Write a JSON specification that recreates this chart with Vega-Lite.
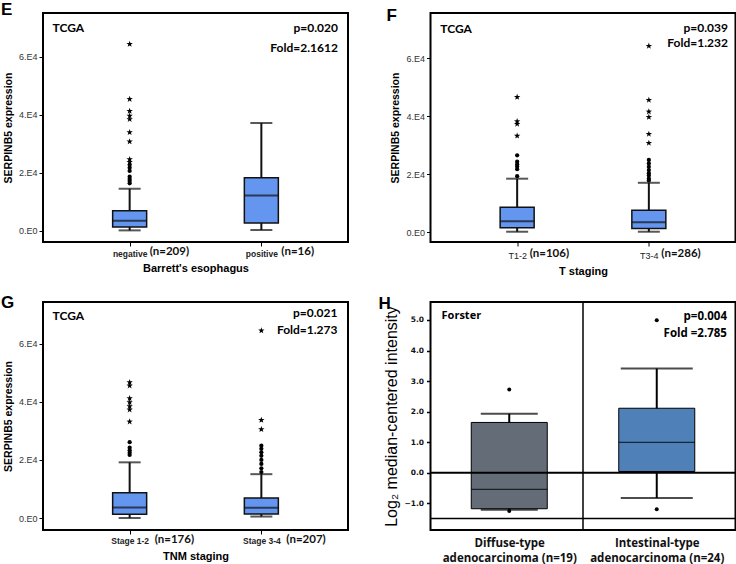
{
 "$schema": "https://vega.github.io/schema/vega-lite/v6.json",
 "background": "white",
 "padding": 0,
 "config": {
  "view": {"stroke": "black", "strokeWidth": 2},
  "axis": {"grid": false, "domain": false, "labelFont": "Liberation Sans", "titleFont": "Liberation Sans", "tickColor": "black", "labelColor": "#222", "titleColor": "black"},
  "title": {"font": "Liberation Sans", "fontWeight": "bold", "fontSize": 17, "color": "black", "anchor": "start", "frame": "group", "offset": 0, "baseline": "alphabetic"}
 },
 "datasets": {
  "boxE": [{"c":1,"lo":100,"q1":1300,"med":3450,"q3":6900,"hi":14450},{"c":2,"lo":230,"q1":2630,"med":12150,"q3":18200,"hi":37100}],
  "outE": [{"c":1,"v":16300,"k":"o"},{"c":1,"v":17100,"k":"o"},{"c":1,"v":17800,"k":"o"},{"c":1,"v":18600,"k":"o"},{"c":1,"v":20600,"k":"o"},{"c":1,"v":21700,"k":"o"},{"c":1,"v":22700,"k":"o"},{"c":1,"v":23600,"k":"s"},{"c":1,"v":24600,"k":"s"},{"c":1,"v":30700,"k":"s"},{"c":1,"v":33900,"k":"s"},{"c":1,"v":38400,"k":"s"},{"c":1,"v":39600,"k":"s"},{"c":1,"v":41200,"k":"s"},{"c":1,"v":45300,"k":"s"},{"c":1,"v":64300,"k":"s"}],
  "boxF": [{"c":1,"lo":100,"q1":1450,"med":3700,"q3":8580,"hi":18420},{"c":2,"lo":100,"q1":1200,"med":3400,"q3":7500,"hi":17000}],
  "outF": [{"c":1,"v":19300,"k":"o"},{"c":1,"v":21700,"k":"o"},{"c":1,"v":22600,"k":"o"},{"c":1,"v":23400,"k":"o"},{"c":1,"v":24300,"k":"o"},{"c":1,"v":26500,"k":"o"},{"c":1,"v":33200,"k":"s"},{"c":1,"v":37300,"k":"s"},{"c":1,"v":38200,"k":"s"},{"c":1,"v":46600,"k":"s"},{"c":2,"v":17800,"k":"o"},{"c":2,"v":18400,"k":"o"},{"c":2,"v":19500,"k":"o"},{"c":2,"v":20300,"k":"o"},{"c":2,"v":21400,"k":"o"},{"c":2,"v":22500,"k":"o"},{"c":2,"v":23700,"k":"o"},{"c":2,"v":24900,"k":"o"},{"c":2,"v":30750,"k":"s"},{"c":2,"v":33860,"k":"s"},{"c":2,"v":39700,"k":"s"},{"c":2,"v":41570,"k":"s"},{"c":2,"v":45600,"k":"s"},{"c":2,"v":64260,"k":"s"}],
  "boxG": [{"c":1,"lo":0,"q1":1300,"med":3620,"q3":8715,"hi":19160},{"c":2,"lo":500,"q1":1400,"med":3500,"q3":6880,"hi":15090}],
  "outG": [{"c":1,"v":21700,"k":"o"},{"c":1,"v":22500,"k":"o"},{"c":1,"v":23300,"k":"o"},{"c":1,"v":24200,"k":"o"},{"c":1,"v":26100,"k":"o"},{"c":1,"v":33150,"k":"s"},{"c":1,"v":37280,"k":"s"},{"c":1,"v":38440,"k":"s"},{"c":1,"v":39820,"k":"s"},{"c":1,"v":41200,"k":"s"},{"c":1,"v":45540,"k":"s"},{"c":1,"v":46700,"k":"s"},{"c":2,"v":15800,"k":"o"},{"c":2,"v":17100,"k":"o"},{"c":2,"v":18600,"k":"o"},{"c":2,"v":20000,"k":"o"},{"c":2,"v":21400,"k":"o"},{"c":2,"v":22600,"k":"o"},{"c":2,"v":23800,"k":"o"},{"c":2,"v":24900,"k":"o"},{"c":2,"v":30500,"k":"s"},{"c":2,"v":33700,"k":"s"},{"c":2,"v":64500,"k":"s"}],
  "boxH": [{"c":0.5,"lo":-1.21,"q1":-1.18,"med":-0.545,"q3":1.645,"hi":1.93},{"c":1.5,"lo":-0.83,"q1":0.04,"med":0.99,"q3":2.11,"hi":3.41}],
  "outH": [{"c":0.5,"v":2.72},{"c":0.5,"v":-1.25},{"c":1.5,"v":4.99},{"c":1.5,"v":-1.2}]
 },
 "columns": 2,
 "spacing": {"row": 60, "column": 82.5},
 "bounds": "flush",
 "concat": [
    {
     "width": 305, "height": 229,
     "title": {"text": "E", "dx": -42, "offset": -6},
     "resolve": {"axis": {"x": "independent", "y": "independent"}},
     "layer": [
      {"data": {"name": "boxE"}, "mark": {"type": "rule", "strokeWidth": 2, "color": "#111"},
       "encoding": {
        "x": {"field": "c", "type": "quantitative", "scale": {"domain": [0.38, 2.62], "nice": false, "zero": false},
              "axis": {"values": [1, 2], "labelExpr": "datum.value == 1 ? 'negative' : 'positive'", "labelFontSize": 8.5, "labelFontWeight": "bold", "labelBaseline": "alphabetic", "tickSize": 4, "tickWidth": 1, "labelPadding": 10, "title": "Barrett's esophagus", "titleFontSize": 11, "titleFontWeight": "bold", "titlePadding": 5}},
        "y": {"field": "lo", "type": "quantitative", "scale": {"domain": [-3900, 75000], "nice": false, "zero": false},
              "axis": {"values": [0, 20000, 40000, 60000], "labelExpr": "datum.value == 0 ? '0.E0' : format(datum.value / 10000, 'd') + '.E4'", "labelFontSize": 9, "labelColor": "#333", "tickSize": 4, "tickWidth": 1, "labelPadding": 2, "title": "SERPINB5 expression", "titleFontSize": 10.5, "titleFontWeight": "bold", "titlePadding": 5}},
        "y2": {"field": "hi"}}},
      {"data": {"name": "boxE"}, "mark": {"type": "bar", "orient": "vertical", "size": 34, "fill": "#6496f0", "stroke": "#111", "strokeWidth": 1.5},
       "encoding": {
        "x": {"field": "c", "type": "quantitative", "scale": {"domain": [0.38, 2.62], "nice": false, "zero": false},
              "axis": {"orient": "bottom", "values": [1, 2], "labelExpr": "datum.value == 1 ? '(n=209)' : '(n=16)'", "labelAlign": "left", "labelOffset": 19.5, "labelFont": "Lato", "labelFontSize": 11.5, "labelFontWeight": "bold", "labelColor": "#111", "labelBaseline": "alphabetic", "ticks": false, "tickSize": 0, "labelPadding": 12.5, "title": null}},
        "y": {"field": "q1", "type": "quantitative", "scale": {"domain": [-3900, 75000], "nice": false, "zero": false}, "axis": null},
        "y2": {"field": "q3"}}},
      {"data": {"name": "boxE"}, "mark": {"type": "tick", "orient": "horizontal", "size": 34, "thickness": 2, "color": "#111"},
       "encoding": {
        "x": {"field": "c", "type": "quantitative", "scale": {"domain": [0.38, 2.62], "nice": false, "zero": false}, "axis": null},
        "y": {"field": "med", "type": "quantitative", "scale": {"domain": [-3900, 75000], "nice": false, "zero": false}, "axis": null}}},
      {"data": {"name": "boxE"}, "mark": {"type": "tick", "orient": "horizontal", "size": 22, "thickness": 2, "color": "#111"},
       "encoding": {
        "x": {"field": "c", "type": "quantitative", "scale": {"domain": [0.38, 2.62], "nice": false, "zero": false}, "axis": null},
        "y": {"field": "lo", "type": "quantitative", "scale": {"domain": [-3900, 75000], "nice": false, "zero": false}, "axis": null}}},
      {"data": {"name": "boxE"}, "mark": {"type": "tick", "orient": "horizontal", "size": 22, "thickness": 2, "color": "#111"},
       "encoding": {
        "x": {"field": "c", "type": "quantitative", "scale": {"domain": [0.38, 2.62], "nice": false, "zero": false}, "axis": null},
        "y": {"field": "hi", "type": "quantitative", "scale": {"domain": [-3900, 75000], "nice": false, "zero": false}, "axis": null}}},
      {"data": {"name": "outE"}, "transform": [{"filter": "datum.k == 'o'"}], "mark": {"type": "point", "filled": true, "color": "black", "opacity": 1, "size": 18},
       "encoding": {
        "x": {"field": "c", "type": "quantitative", "scale": {"domain": [0.38, 2.62], "nice": false, "zero": false}, "axis": null},
        "y": {"field": "v", "type": "quantitative", "scale": {"domain": [-3900, 75000], "nice": false, "zero": false}, "axis": null}}},
      {"data": {"name": "outE"}, "transform": [{"filter": "datum.k == 's'"}], "mark": {"type": "point", "filled": true, "color": "black", "opacity": 1, "size": 45, "shape": "M0,-1L0.235,-0.324L0.951,-0.309L0.38,0.124L0.588,0.809L0,0.4L-0.588,0.809L-0.38,0.124L-0.951,-0.309L-0.235,-0.324Z"},
       "encoding": {
        "x": {"field": "c", "type": "quantitative", "scale": {"domain": [0.38, 2.62], "nice": false, "zero": false}, "axis": null},
        "y": {"field": "v", "type": "quantitative", "scale": {"domain": [-3900, 75000], "nice": false, "zero": false}, "axis": null}}},
      {"data": {"values": [{}]}, "mark": {"type": "text", "font": "Lato", "fontWeight": "bold", "fontSize": 12, "align": "left", "baseline": "middle", "color": "black"},
       "encoding": {
        "x": {"datum": 0.4145, "type": "quantitative", "scale": {"domain": [0.38, 2.62], "nice": false, "zero": false}, "axis": null},
        "y": {"datum": 69800, "type": "quantitative", "scale": {"domain": [-3900, 75000], "nice": false, "zero": false}, "axis": null},
        "text": {"value": "TCGA"}}},
      {"data": {"values": [{}]}, "mark": {"type": "text", "font": "Lato", "fontWeight": "bold", "fontSize": 12, "align": "right", "baseline": "middle", "color": "black"},
       "encoding": {
        "x": {"datum": 2.581, "type": "quantitative", "scale": {"domain": [0.38, 2.62], "nice": false, "zero": false}, "axis": null},
        "y": {"datum": 69800, "type": "quantitative", "scale": {"domain": [-3900, 75000], "nice": false, "zero": false}, "axis": null},
        "text": {"value": "p=0.020"}}},
      {"data": {"values": [{}]}, "mark": {"type": "text", "font": "Lato", "fontWeight": "bold", "fontSize": 12, "align": "right", "baseline": "middle", "color": "black"},
       "encoding": {
        "x": {"datum": 2.581, "type": "quantitative", "scale": {"domain": [0.38, 2.62], "nice": false, "zero": false}, "axis": null},
        "y": {"datum": 63100, "type": "quantitative", "scale": {"domain": [-3900, 75000], "nice": false, "zero": false}, "axis": null},
        "text": {"value": "Fold=2.1612"}}}
     ]
    },
    {
     "width": 305, "height": 229,
     "title": {"text": "F", "dx": -44, "offset": -12},
     "resolve": {"axis": {"x": "independent", "y": "independent"}},
     "layer": [
      {"data": {"name": "boxF"}, "mark": {"type": "rule", "strokeWidth": 2, "color": "#111"},
       "encoding": {
        "x": {"field": "c", "type": "quantitative", "scale": {"domain": [0.38, 2.62], "nice": false, "zero": false},
              "axis": {"values": [1, 2], "labelExpr": "datum.value == 1 ? 'T1-2' : 'T3-4'", "labelFontSize": 9, "labelFontWeight": "normal", "labelBaseline": "alphabetic", "tickSize": 4, "tickWidth": 1, "labelPadding": 12, "title": "T staging", "titleFontSize": 11, "titleFontWeight": "bold", "titlePadding": 5}},
        "y": {"field": "lo", "type": "quantitative", "scale": {"domain": [-3450, 75650], "nice": false, "zero": false},
              "axis": {"values": [0, 20000, 40000, 60000], "labelExpr": "datum.value == 0 ? '0.E0' : format(datum.value / 10000, 'd') + '.E4'", "labelFontSize": 9, "labelColor": "#333", "tickSize": 4, "tickWidth": 1, "labelPadding": 2, "title": "SERPINB5 expression", "titleFontSize": 10.5, "titleFontWeight": "bold", "titlePadding": 5}},
        "y2": {"field": "hi"}}},
      {"data": {"name": "boxF"}, "mark": {"type": "bar", "orient": "vertical", "size": 34, "fill": "#6496f0", "stroke": "#111", "strokeWidth": 1.5},
       "encoding": {
        "x": {"field": "c", "type": "quantitative", "scale": {"domain": [0.38, 2.62], "nice": false, "zero": false},
              "axis": {"orient": "bottom", "values": [1, 2], "labelExpr": "datum.value == 1 ? '(n=106)' : '(n=286)'", "labelAlign": "left", "labelOffset": 12, "labelFont": "Lato", "labelFontSize": 11.5, "labelFontWeight": "bold", "labelColor": "#111", "labelBaseline": "alphabetic", "ticks": false, "tickSize": 0, "labelPadding": 14.5, "title": null}},
        "y": {"field": "q1", "type": "quantitative", "scale": {"domain": [-3450, 75650], "nice": false, "zero": false}, "axis": null},
        "y2": {"field": "q3"}}},
      {"data": {"name": "boxF"}, "mark": {"type": "tick", "orient": "horizontal", "size": 34, "thickness": 2, "color": "#111"},
       "encoding": {
        "x": {"field": "c", "type": "quantitative", "scale": {"domain": [0.38, 2.62], "nice": false, "zero": false}, "axis": null},
        "y": {"field": "med", "type": "quantitative", "scale": {"domain": [-3450, 75650], "nice": false, "zero": false}, "axis": null}}},
      {"data": {"name": "boxF"}, "mark": {"type": "tick", "orient": "horizontal", "size": 22, "thickness": 2, "color": "#111"},
       "encoding": {
        "x": {"field": "c", "type": "quantitative", "scale": {"domain": [0.38, 2.62], "nice": false, "zero": false}, "axis": null},
        "y": {"field": "lo", "type": "quantitative", "scale": {"domain": [-3450, 75650], "nice": false, "zero": false}, "axis": null}}},
      {"data": {"name": "boxF"}, "mark": {"type": "tick", "orient": "horizontal", "size": 22, "thickness": 2, "color": "#111"},
       "encoding": {
        "x": {"field": "c", "type": "quantitative", "scale": {"domain": [0.38, 2.62], "nice": false, "zero": false}, "axis": null},
        "y": {"field": "hi", "type": "quantitative", "scale": {"domain": [-3450, 75650], "nice": false, "zero": false}, "axis": null}}},
      {"data": {"name": "outF"}, "transform": [{"filter": "datum.k == 'o'"}], "mark": {"type": "point", "filled": true, "color": "black", "opacity": 1, "size": 18},
       "encoding": {
        "x": {"field": "c", "type": "quantitative", "scale": {"domain": [0.38, 2.62], "nice": false, "zero": false}, "axis": null},
        "y": {"field": "v", "type": "quantitative", "scale": {"domain": [-3450, 75650], "nice": false, "zero": false}, "axis": null}}},
      {"data": {"name": "outF"}, "transform": [{"filter": "datum.k == 's'"}], "mark": {"type": "point", "filled": true, "color": "black", "opacity": 1, "size": 45, "shape": "M0,-1L0.235,-0.324L0.951,-0.309L0.38,0.124L0.588,0.809L0,0.4L-0.588,0.809L-0.38,0.124L-0.951,-0.309L-0.235,-0.324Z"},
       "encoding": {
        "x": {"field": "c", "type": "quantitative", "scale": {"domain": [0.38, 2.62], "nice": false, "zero": false}, "axis": null},
        "y": {"field": "v", "type": "quantitative", "scale": {"domain": [-3450, 75650], "nice": false, "zero": false}, "axis": null}}},
      {"data": {"values": [{}]}, "mark": {"type": "text", "font": "Lato", "fontWeight": "bold", "fontSize": 12, "align": "left", "baseline": "middle", "color": "black"},
       "encoding": {
        "x": {"datum": 0.4167, "type": "quantitative", "scale": {"domain": [0.38, 2.62], "nice": false, "zero": false}, "axis": null},
        "y": {"datum": 70190, "type": "quantitative", "scale": {"domain": [-3450, 75650], "nice": false, "zero": false}, "axis": null},
        "text": {"value": "TCGA"}}},
      {"data": {"values": [{}]}, "mark": {"type": "text", "font": "Lato", "fontWeight": "bold", "fontSize": 12, "align": "right", "baseline": "middle", "color": "black"},
       "encoding": {
        "x": {"datum": 2.6, "type": "quantitative", "scale": {"domain": [0.38, 2.62], "nice": false, "zero": false}, "axis": null},
        "y": {"datum": 70350, "type": "quantitative", "scale": {"domain": [-3450, 75650], "nice": false, "zero": false}, "axis": null},
        "text": {"value": "p=0.039"}}},
      {"data": {"values": [{}]}, "mark": {"type": "text", "font": "Lato", "fontWeight": "bold", "fontSize": 12, "align": "right", "baseline": "middle", "color": "black"},
       "encoding": {
        "x": {"datum": 2.6, "type": "quantitative", "scale": {"domain": [0.38, 2.62], "nice": false, "zero": false}, "axis": null},
        "y": {"datum": 65180, "type": "quantitative", "scale": {"domain": [-3450, 75650], "nice": false, "zero": false}, "axis": null},
        "text": {"value": "Fold=1.232"}}}
     ]
    },
    {
     "width": 305, "height": 228,
     "title": {"text": "G", "dx": -42, "offset": -10},
     "resolve": {"axis": {"x": "independent", "y": "independent"}},
     "layer": [
      {"data": {"name": "boxG"}, "mark": {"type": "rule", "strokeWidth": 2, "color": "#111"},
       "encoding": {
        "x": {"field": "c", "type": "quantitative", "scale": {"domain": [0.38, 2.62], "nice": false, "zero": false},
              "axis": {"values": [1, 2], "labelExpr": "datum.value == 1 ? 'Stage 1-2' : 'Stage 3-4'", "labelFontSize": 8.5, "labelFontWeight": "bold", "labelBaseline": "alphabetic", "tickSize": 4, "tickWidth": 1, "labelPadding": 9.7, "title": "TNM staging", "titleFontSize": 11, "titleFontWeight": "bold", "titlePadding": 5}},
        "y": {"field": "lo", "type": "quantitative", "scale": {"domain": [-4130, 74350], "nice": false, "zero": false},
              "axis": {"values": [0, 20000, 40000, 60000], "labelExpr": "datum.value == 0 ? '0.E0' : format(datum.value / 10000, 'd') + '.E4'", "labelFontSize": 9, "labelColor": "#333", "tickSize": 4, "tickWidth": 1, "labelPadding": 2, "title": "SERPINB5 expression", "titleFontSize": 10.5, "titleFontWeight": "bold", "titlePadding": 5}},
        "y2": {"field": "hi"}}},
      {"data": {"name": "boxG"}, "mark": {"type": "bar", "orient": "vertical", "size": 34, "fill": "#6496f0", "stroke": "#111", "strokeWidth": 1.5},
       "encoding": {
        "x": {"field": "c", "type": "quantitative", "scale": {"domain": [0.38, 2.62], "nice": false, "zero": false},
              "axis": {"orient": "bottom", "values": [1, 2], "labelExpr": "datum.value == 1 ? '(n=176)' : '(n=207)'", "labelAlign": "left", "labelOffset": 24.5, "labelFont": "Lato", "labelFontSize": 11.5, "labelFontWeight": "bold", "labelColor": "#111", "labelBaseline": "alphabetic", "ticks": false, "tickSize": 0, "labelPadding": 12, "title": null}},
        "y": {"field": "q1", "type": "quantitative", "scale": {"domain": [-4130, 74350], "nice": false, "zero": false}, "axis": null},
        "y2": {"field": "q3"}}},
      {"data": {"name": "boxG"}, "mark": {"type": "tick", "orient": "horizontal", "size": 34, "thickness": 2, "color": "#111"},
       "encoding": {
        "x": {"field": "c", "type": "quantitative", "scale": {"domain": [0.38, 2.62], "nice": false, "zero": false}, "axis": null},
        "y": {"field": "med", "type": "quantitative", "scale": {"domain": [-4130, 74350], "nice": false, "zero": false}, "axis": null}}},
      {"data": {"name": "boxG"}, "mark": {"type": "tick", "orient": "horizontal", "size": 22, "thickness": 2, "color": "#111"},
       "encoding": {
        "x": {"field": "c", "type": "quantitative", "scale": {"domain": [0.38, 2.62], "nice": false, "zero": false}, "axis": null},
        "y": {"field": "lo", "type": "quantitative", "scale": {"domain": [-4130, 74350], "nice": false, "zero": false}, "axis": null}}},
      {"data": {"name": "boxG"}, "mark": {"type": "tick", "orient": "horizontal", "size": 22, "thickness": 2, "color": "#111"},
       "encoding": {
        "x": {"field": "c", "type": "quantitative", "scale": {"domain": [0.38, 2.62], "nice": false, "zero": false}, "axis": null},
        "y": {"field": "hi", "type": "quantitative", "scale": {"domain": [-4130, 74350], "nice": false, "zero": false}, "axis": null}}},
      {"data": {"name": "outG"}, "transform": [{"filter": "datum.k == 'o'"}], "mark": {"type": "point", "filled": true, "color": "black", "opacity": 1, "size": 18},
       "encoding": {
        "x": {"field": "c", "type": "quantitative", "scale": {"domain": [0.38, 2.62], "nice": false, "zero": false}, "axis": null},
        "y": {"field": "v", "type": "quantitative", "scale": {"domain": [-4130, 74350], "nice": false, "zero": false}, "axis": null}}},
      {"data": {"name": "outG"}, "transform": [{"filter": "datum.k == 's'"}], "mark": {"type": "point", "filled": true, "color": "black", "opacity": 1, "size": 45, "shape": "M0,-1L0.235,-0.324L0.951,-0.309L0.38,0.124L0.588,0.809L0,0.4L-0.588,0.809L-0.38,0.124L-0.951,-0.309L-0.235,-0.324Z"},
       "encoding": {
        "x": {"field": "c", "type": "quantitative", "scale": {"domain": [0.38, 2.62], "nice": false, "zero": false}, "axis": null},
        "y": {"field": "v", "type": "quantitative", "scale": {"domain": [-4130, 74350], "nice": false, "zero": false}, "axis": null}}},
      {"data": {"values": [{}]}, "mark": {"type": "text", "font": "Lato", "fontWeight": "bold", "fontSize": 12, "align": "left", "baseline": "middle", "color": "black"},
       "encoding": {
        "x": {"datum": 0.4145, "type": "quantitative", "scale": {"domain": [0.38, 2.62], "nice": false, "zero": false}, "axis": null},
        "y": {"datum": 69460, "type": "quantitative", "scale": {"domain": [-4130, 74350], "nice": false, "zero": false}, "axis": null},
        "text": {"value": "TCGA"}}},
      {"data": {"values": [{}]}, "mark": {"type": "text", "font": "Lato", "fontWeight": "bold", "fontSize": 12, "align": "right", "baseline": "middle", "color": "black"},
       "encoding": {
        "x": {"datum": 2.578, "type": "quantitative", "scale": {"domain": [0.38, 2.62], "nice": false, "zero": false}, "axis": null},
        "y": {"datum": 70490, "type": "quantitative", "scale": {"domain": [-4130, 74350], "nice": false, "zero": false}, "axis": null},
        "text": {"value": "p=0.021"}}},
      {"data": {"values": [{}]}, "mark": {"type": "text", "font": "Lato", "fontWeight": "bold", "fontSize": 12, "align": "right", "baseline": "middle", "color": "black"},
       "encoding": {
        "x": {"datum": 2.578, "type": "quantitative", "scale": {"domain": [0.38, 2.62], "nice": false, "zero": false}, "axis": null},
        "y": {"datum": 64620, "type": "quantitative", "scale": {"domain": [-4130, 74350], "nice": false, "zero": false}, "axis": null},
        "text": {"value": "Fold=1.273"}}}
     ]
    },
    {
     "width": 305, "height": 228,
     "title": {"text": "H", "dx": -52, "offset": -11.7},
     "resolve": {"axis": {"x": "independent", "y": "independent"}},
     "layer": [
      {"data": {"name": "boxH"}, "mark": {"type": "rule", "strokeWidth": 2, "color": "black"},
       "encoding": {
        "x": {"field": "c", "type": "quantitative", "scale": {"domain": [0, 2], "nice": false, "zero": false},
              "axis": {"values": [0.5, 1.5], "labelExpr": "datum.value < 1 ? ['Diffuse-type', 'adenocarcinoma (n=19)'] : ['Intestinal-type', 'adenocarcinoma (n=24)']", "labelFont": "Open Sans", "labelFontSize": 11.5, "labelFontWeight": "bold", "labelColor": "#111", "labelLineHeight": 15, "ticks": false, "tickSize": 0, "labelPadding": 7, "title": null}},
        "y": {"field": "lo", "type": "quantitative", "scale": {"domain": [-1.876, 5.588], "nice": false, "zero": false},
              "axis": {"values": [-1, 0, 1, 2, 3, 4, 5], "format": ".1f", "labelFont": "DejaVu Sans", "labelFontSize": 7.5, "labelFontWeight": "bold", "labelColor": "#111", "tickSize": 4, "tickWidth": 1.5, "labelPadding": 3, "title": "Log₂ median-centered intensity", "titleFontSize": 16, "titleFontWeight": "normal", "titlePadding": 4}},
        "y2": {"field": "hi"}}},
      {"data": {"name": "boxH"}, "mark": {"type": "bar", "orient": "vertical", "size": 76, "stroke": "black", "strokeWidth": 1},
       "encoding": {
        "x": {"field": "c", "type": "quantitative", "scale": {"domain": [0, 2], "nice": false, "zero": false}, "axis": null},
        "y": {"field": "q1", "type": "quantitative", "scale": {"domain": [-1.876, 5.588], "nice": false, "zero": false}, "axis": null},
        "y2": {"field": "q3"},
        "fill": {"condition": {"test": "datum.c < 1", "value": "#646d77"}, "value": "#4f80b8"}}},
      {"data": {"name": "boxH"}, "mark": {"type": "tick", "orient": "horizontal", "size": 76, "thickness": 1.2, "color": "black"},
       "encoding": {
        "x": {"field": "c", "type": "quantitative", "scale": {"domain": [0, 2], "nice": false, "zero": false}, "axis": null},
        "y": {"field": "med", "type": "quantitative", "scale": {"domain": [-1.876, 5.588], "nice": false, "zero": false}, "axis": null}}},
      {"data": {"name": "boxH"}, "mark": {"type": "tick", "orient": "horizontal", "thickness": 2, "color": "black"},
       "encoding": {
        "x": {"field": "c", "type": "quantitative", "scale": {"domain": [0, 2], "nice": false, "zero": false}, "axis": null},
        "y": {"field": "lo", "type": "quantitative", "scale": {"domain": [-1.876, 5.588], "nice": false, "zero": false}, "axis": null},
        "size": {"condition": {"test": "datum.c < 1", "value": 57}, "value": 72}}},
      {"data": {"name": "boxH"}, "mark": {"type": "tick", "orient": "horizontal", "thickness": 2, "color": "black"},
       "encoding": {
        "x": {"field": "c", "type": "quantitative", "scale": {"domain": [0, 2], "nice": false, "zero": false}, "axis": null},
        "y": {"field": "hi", "type": "quantitative", "scale": {"domain": [-1.876, 5.588], "nice": false, "zero": false}, "axis": null},
        "size": {"condition": {"test": "datum.c < 1", "value": 57}, "value": 72}}},
      {"data": {"name": "outH"}, "mark": {"type": "point", "filled": true, "color": "black", "opacity": 1, "size": 16},
       "encoding": {
        "x": {"field": "c", "type": "quantitative", "scale": {"domain": [0, 2], "nice": false, "zero": false}, "axis": null},
        "y": {"field": "v", "type": "quantitative", "scale": {"domain": [-1.876, 5.588], "nice": false, "zero": false}, "axis": null}}},
      {"data": {"values": [{}]}, "mark": {"type": "rule", "strokeWidth": 1.5, "color": "black"},
       "encoding": {
        "x": {"datum": 1, "type": "quantitative", "scale": {"domain": [0, 2], "nice": false, "zero": false}, "axis": null}}},
      {"data": {"values": [{}]}, "mark": {"type": "rule", "strokeWidth": 2, "color": "black"},
       "encoding": {
        "y": {"datum": 0, "type": "quantitative", "scale": {"domain": [-1.876, 5.588], "nice": false, "zero": false}, "axis": null}}},
      {"data": {"values": [{}]}, "mark": {"type": "rule", "strokeWidth": 1.5, "color": "black"},
       "encoding": {
        "y": {"datum": -1.5, "type": "quantitative", "scale": {"domain": [-1.876, 5.588], "nice": false, "zero": false}, "axis": null}}},
      {"data": {"values": [{}]}, "mark": {"type": "text", "font": "Open Sans", "fontWeight": "bold", "fontSize": 11, "align": "left", "baseline": "middle", "color": "black"},
       "encoding": {
        "x": {"datum": 0.041, "type": "quantitative", "scale": {"domain": [0, 2], "nice": false, "zero": false}, "axis": null},
        "y": {"datum": 5.12, "type": "quantitative", "scale": {"domain": [-1.876, 5.588], "nice": false, "zero": false}, "axis": null},
        "text": {"value": "Forster"}}},
      {"data": {"values": [{}]}, "mark": {"type": "text", "font": "Open Sans", "fontWeight": "bold", "fontSize": 11.5, "align": "right", "baseline": "middle", "color": "black"},
       "encoding": {
        "x": {"datum": 1.976, "type": "quantitative", "scale": {"domain": [0, 2], "nice": false, "zero": false}, "axis": null},
        "y": {"datum": 5.1, "type": "quantitative", "scale": {"domain": [-1.876, 5.588], "nice": false, "zero": false}, "axis": null},
        "text": {"value": "p=0.004"}}},
      {"data": {"values": [{}]}, "mark": {"type": "text", "font": "Open Sans", "fontWeight": "bold", "fontSize": 11.5, "align": "right", "baseline": "middle", "color": "black"},
       "encoding": {
        "x": {"datum": 1.976, "type": "quantitative", "scale": {"domain": [0, 2], "nice": false, "zero": false}, "axis": null},
        "y": {"datum": 4.53, "type": "quantitative", "scale": {"domain": [-1.876, 5.588], "nice": false, "zero": false}, "axis": null},
        "text": {"value": "Fold =2.785"}}}
     ]
    }
 ]
}
